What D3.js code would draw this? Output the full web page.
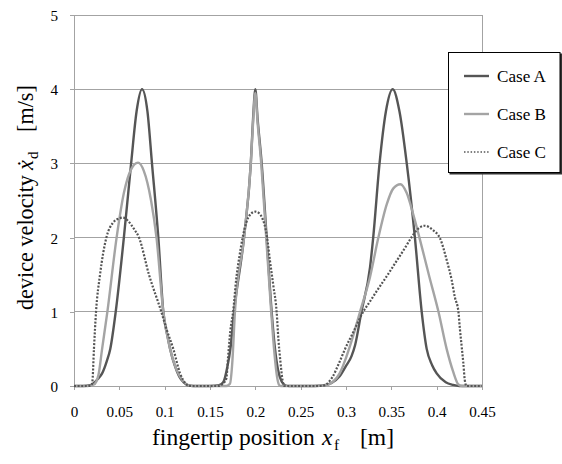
<!DOCTYPE html>
<html>
<head>
<meta charset="utf-8">
<script src="https://cdn.jsdelivr.net/npm/d3@7"></script>
<style>
  html, body { margin: 0; padding: 0; background: #fff; }
  svg { display: block; }
</style>
</head>
<body>
<svg id="chart" width="562" height="464"></svg>
<script>
// Fingertip position x_f [m] and device velocity [m/s] for each case
const caseAx = [0, 0.01, 0.018, 0.022, 0.026, 0.031, 0.036, 0.040, 0.046, 0.055, 0.063, 0.069, 0.075, 0.081, 0.086, 0.093, 0.0985, 0.103, 0.106, 0.111, 0.116, 0.121, 0.126, 0.132,
  0.150, 0.160, 0.165, 0.169, 0.1725, 0.1765, 0.1875, 0.195, 0.1975, 0.200, 0.2025, 0.207, 0.2125, 0.218, 0.2217, 0.225, 0.229, 0.233, 0.237,
  0.265, 0.276, 0.284, 0.293, 0.300, 0.306, 0.310, 0.317, 0.3265, 0.330, 0.337, 0.344, 0.3515, 0.359, 0.367, 0.376, 0.3835, 0.389, 0.395, 0.400, 0.410, 0.418, 0.425, 0.45];
const caseAv = [0, 0, 0.01, 0.04, 0.09, 0.17, 0.33, 0.5, 1.0, 2.0, 3.0, 3.7, 4.0, 3.7, 3.0, 2.0, 1.0, 0.68, 0.5, 0.28, 0.13, 0.05, 0.01, 0,
  0, 0.01, 0.06, 0.25, 0.5, 1.0, 2.0, 3.0, 3.6, 4.0, 3.6, 3.0, 2.0, 1.0, 0.5, 0.22, 0.06, 0.01, 0,
  0, 0.01, 0.04, 0.13, 0.27, 0.4, 0.55, 1.0, 1.6, 2.0, 3.0, 3.7, 4.0, 3.7, 3.0, 2.0, 1.0, 0.5, 0.28, 0.17, 0.05, 0.015, 0, 0];

const caseBx = [0, 0.015, 0.022, 0.027, 0.031, 0.0368, 0.047, 0.055, 0.063, 0.0706, 0.077, 0.085, 0.091, 0.0985, 0.106, 0.113, 0.120, 0.126, 0.130,
  0.150, 0.168, 0.172, 0.1745, 0.1775, 0.1875, 0.195, 0.1975, 0.200, 0.2025, 0.2065, 0.212, 0.2175, 0.221, 0.224, 0.226, 0.228,
  0.265, 0.278, 0.285, 0.293, 0.300, 0.306, 0.3155, 0.3265, 0.3357, 0.345, 0.352, 0.360, 0.367, 0.374, 0.381, 0.392, 0.402, 0.411, 0.418, 0.424, 0.428, 0.45];
const caseBv = [0, 0, 0.02, 0.15, 0.5, 1.0, 2.0, 2.6, 2.92, 3.01, 2.9, 2.5, 2.0, 1.0, 0.5, 0.22, 0.07, 0.01, 0,
  0, 0, 0.03, 0.3, 1.0, 2.0, 3.0, 3.55, 3.95, 3.55, 3.0, 2.0, 1.0, 0.45, 0.12, 0.02, 0,
  0, 0.01, 0.05, 0.17, 0.38, 0.6, 1.0, 1.47, 2.0, 2.45, 2.66, 2.72, 2.6, 2.32, 2.0, 1.47, 1.0, 0.5, 0.2, 0.02, 0, 0];

const caseCx = [0, 0.015, 0.019, 0.0202, 0.022, 0.0243, 0.0287, 0.0357, 0.043, 0.050, 0.054, 0.060, 0.066, 0.0717, 0.0827, 0.0963, 0.1025, 0.1095, 0.117, 0.124, 0.127,
  0.150, 0.160, 0.164, 0.168, 0.170, 0.1725, 0.1755, 0.179, 0.1825, 0.186, 0.190, 0.195, 0.200, 0.204, 0.207, 0.213, 0.216, 0.220, 0.2235, 0.2255, 0.2275, 0.230, 0.232,
  0.265, 0.273, 0.279, 0.285, 0.292, 0.299, 0.309, 0.319, 0.3265, 0.335, 0.345, 0.355, 0.365, 0.372, 0.378, 0.387, 0.396, 0.4037, 0.411, 0.4165, 0.420, 0.424, 0.4257, 0.4276, 0.4294, 0.431, 0.433, 0.45];
const caseCv = [0, 0, 0.01, 0.05, 0.5, 1.0, 1.5, 2.0, 2.2, 2.26, 2.27, 2.22, 2.12, 2.0, 1.5, 1.0, 0.75, 0.5, 0.17, 0.02, 0,
  0, 0, 0.03, 0.1, 0.4, 0.75, 1.0, 1.45, 1.75, 2.0, 2.2, 2.32, 2.35, 2.33, 2.28, 2.0, 1.7, 1.34, 1.0, 0.62, 0.35, 0.08, 0,
  0, 0, 0.03, 0.12, 0.3, 0.5, 0.75, 1.0, 1.14, 1.3, 1.48, 1.67, 1.86, 2.0, 2.1, 2.16, 2.1, 1.99, 1.7, 1.43, 1.2, 1.0, 0.76, 0.53, 0.31, 0.08, 0, 0];

const seriesNames = ["Case A", "Case B", "Case C"];
const xTicks = [0, 0.05, 0.1, 0.15, 0.2, 0.25, 0.3, 0.35, 0.4, 0.45];
const xTickLabels = ["0", "0.05", "0.1", "0.15", "0.2", "0.25", "0.3", "0.35", "0.4", "0.45"];
const yTicks = [0, 1, 2, 3, 4, 5];

// pick the first installed serif face
function pickFont(candidates) {
  const ctx = document.createElement("canvas").getContext("2d");
  const probe = "fingertip position 0123456789 Case";
  const w = f => { ctx.font = "40px " + f; return ctx.measureText(probe).width; };
  for (const name of candidates) {
    const a = w(`"${name}", monospace`), b = w(`"${name}", sans-serif`);
    const m = w("monospace"), s = w("sans-serif");
    if (Math.abs(a - b) < 0.01 && Math.abs(a - m) > 0.01) return `"${name}"`;
  }
  return "serif";
}
const serifFont = pickFont(["Liberation Serif", "Tinos", "Times New Roman", "Times", "Nimbus Roman", "Nimbus Roman No9 L", "FreeSerif", "DejaVu Serif", "Noto Serif", "Bitstream Vera Serif"]);

const svg = d3.select("#chart").style("font-family", serifFont);
const plotLeft = 74, plotRight = 482, plotTop = 15, plotBottom = 386;

const x = d3.scaleLinear().domain([0, 0.45]).range([plotLeft, plotRight]);
const y = d3.scaleLinear().domain([0, 5]).range([plotBottom, plotTop]);

const gridColor = "#a3a3a3";

// scale a text node's font size so it spans the wanted width
function fitFont(node, base, width) {
  node.setAttribute("font-size", base);
  const w = node.getComputedTextLength();
  const s = w > 0 ? base * width / w : base;
  node.setAttribute("font-size", s.toFixed(2));
  return s;
}

// horizontal gridlines
svg.append("g")
  .selectAll("line")
  .data(yTicks.filter(d => d > 0))
  .join("line")
  .attr("x1", plotLeft).attr("x2", plotRight)
  .attr("y1", d => y(d)).attr("y2", d => y(d))
  .attr("stroke", gridColor).attr("stroke-width", 1)
  .attr("shape-rendering", "crispEdges");

// right frame edge
svg.append("line")
  .attr("x1", plotRight).attr("x2", plotRight)
  .attr("y1", plotTop).attr("y2", plotBottom)
  .attr("stroke", gridColor).attr("shape-rendering", "crispEdges");

// x axis
const xAxis = d3.axisBottom(x)
  .tickValues(xTicks)
  .tickFormat((d, i) => xTickLabels[i])
  .tickSize(4).tickSizeOuter(0).tickPadding(15);
const gx = svg.append("g").attr("transform", `translate(0,${plotBottom})`).call(xAxis);
gx.attr("font-family", serifFont);
gx.selectAll("path, line").attr("stroke", gridColor).attr("shape-rendering", "crispEdges");
gx.selectAll("text").attr("fill", "#000").attr("dy", null).attr("y", 30.5);

// y axis
const yAxis = d3.axisLeft(y)
  .tickValues(yTicks)
  .tickFormat(d3.format("d"))
  .tickSize(4).tickSizeOuter(0).tickPadding(12);
const gy = svg.append("g").attr("transform", `translate(${plotLeft},0)`).call(yAxis);
gy.attr("font-family", serifFont);
gy.selectAll("path, line").attr("stroke", gridColor).attr("shape-rendering", "crispEdges");
gy.selectAll("text").attr("fill", "#000").attr("dy", null).attr("y", 5.5);

// tick label size from the width of "0.05"
const refTick = gx.selectAll("text").filter((d, i) => i === 1).node();
const tickSize = Math.min(16, fitFont(refTick, 15, 26.5));
gx.selectAll("text").attr("font-size", tickSize);
gy.selectAll("text").attr("font-size", tickSize);

// curves
const line = d3.line()
  .x(d => x(d[0]))
  .y(d => y(d[1]))
  .curve(d3.curveMonotoneX);

const styles = [
  { color: "#555555", width: 2.4, dash: null },
  { color: "#a4a4a4", width: 2.4, dash: null },
  { color: "#555555", width: 2.2, dash: "2,1.6" }
];
const series = [
  d3.zip(caseAx, caseAv),
  d3.zip(caseBx, caseBv),
  d3.zip(caseCx, caseCv)
];

const plot = svg.append("g");
series.forEach((pts, i) => {
  plot.append("path")
    .datum(pts)
    .attr("d", line)
    .attr("fill", "none")
    .attr("stroke", styles[i].color)
    .attr("stroke-width", styles[i].width)
    .attr("stroke-dasharray", styles[i].dash)
    .attr("stroke-linejoin", "round");
});

// legend
const lg = svg.append("g");
lg.append("rect")
  .attr("x", 449.5).attr("y", 53.5).attr("width", 113).attr("height", 121)
  .attr("fill", "#333");
lg.append("rect")
  .attr("x", 448.5).attr("y", 52.5).attr("width", 111.5).attr("height", 120)
  .attr("fill", "#fff").attr("stroke", "#000").attr("stroke-width", 1);
const legendY = [76, 114, 152];
let legendSize = 17;
seriesNames.forEach((name, i) => {
  lg.append("line")
    .attr("x1", 464).attr("x2", 489)
    .attr("y1", legendY[i]).attr("y2", legendY[i])
    .attr("stroke", styles[i].color)
    .attr("stroke-width", i === 2 ? 1.6 : 2.4)
    .attr("stroke-dasharray", i === 2 ? "1.5,1.8" : null);
  const t = lg.append("text")
    .attr("x", 497).attr("y", legendY[i] + 6)
    .text(name);
  if (i === 0) legendSize = Math.min(18, fitFont(t.node(), 17, 49));
  t.attr("font-size", legendSize);
});

// x axis title
const xt = svg.append("text").attr("y", 445);
const xt1 = xt.append("tspan").attr("x", 152).text("fingertip position");
const xtSize = Math.min(24, fitFont(xt1.node(), 23, 163));
xt1.attr("font-size", xtSize);
xt.append("tspan").attr("x", 322).attr("font-style", "italic").attr("font-size", xtSize).text("x");
xt.append("tspan").attr("x", 334).attr("dy", 5).attr("font-size", xtSize * 0.66).text("f");
xt.append("tspan").attr("x", 360).attr("dy", -5).attr("font-size", xtSize).text("[m]");

// y axis title
const yt = svg.append("text")
  .attr("transform", "translate(33,310) rotate(-90)");
const yt1 = yt.append("tspan").attr("x", 0).text("device velocity");
const ytSize = Math.min(23, fitFont(yt1.node(), 22, 135));
yt1.attr("font-size", ytSize);
yt.append("tspan").attr("x", 140).attr("font-style", "italic").attr("font-size", ytSize).text("\u1E8B");
yt.append("tspan").attr("x", 151).attr("dy", 5).attr("font-size", ytSize * 0.68).text("d");
yt.append("tspan").attr("x", 178).attr("dy", -5).attr("font-size", ytSize).text("[m/s]");
</script>
</body>
</html>
